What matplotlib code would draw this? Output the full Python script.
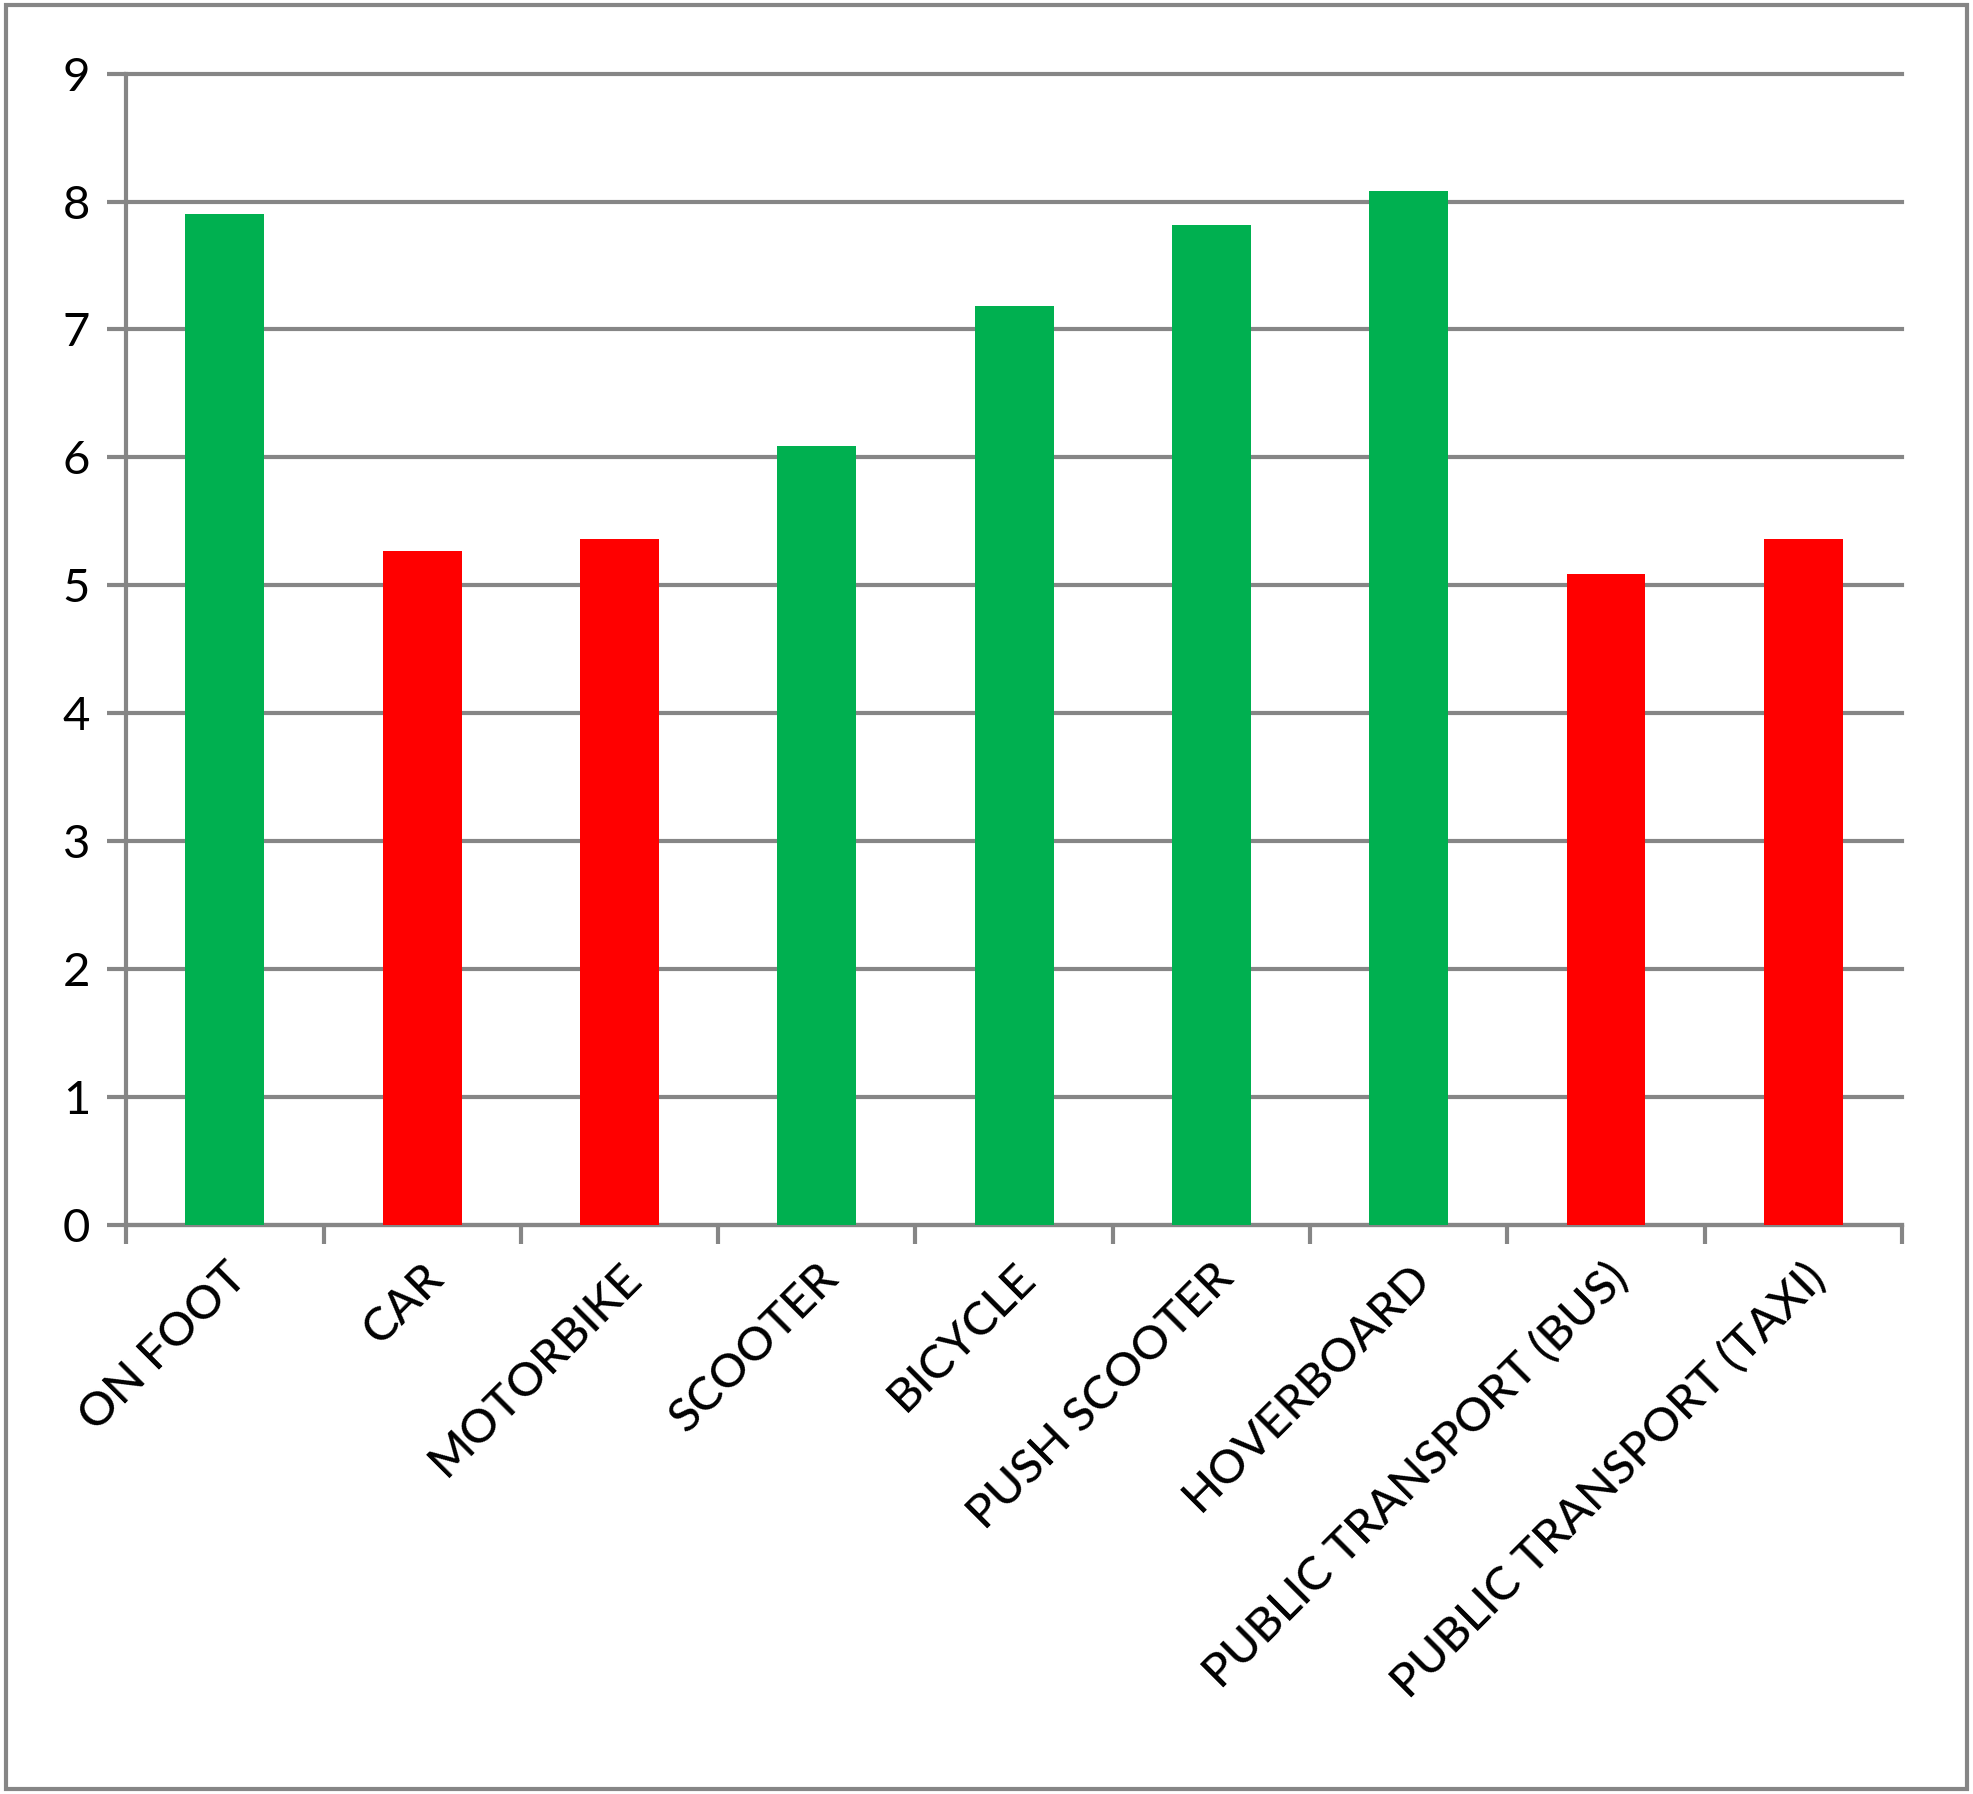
import matplotlib
matplotlib.use("Agg")
import matplotlib.pyplot as plt
from matplotlib.patches import Rectangle
import numpy as np

categories = ["ON FOOT", "CAR", "MOTORBIKE", "SCOOTER", "BICYCLE", "PUSH SCOOTER",
              "HOVERBOARD", "PUBLIC TRANSPORT (BUS)", "PUBLIC TRANSPORT (TAXI)"]
values = [7.9, 5.27, 5.36, 6.09, 7.18, 7.82, 8.08, 5.09, 5.36]
is_green = [True, False, False, True, True, True, True, False, False]

GREEN, RED, GRID = "#00b050", "#ff0000", "#868686"
plt.rcParams["font.family"] = ["Lato", "DejaVu Sans"]

fig = plt.figure(figsize=(19.73, 17.94), dpi=100)
ax = fig.add_axes([0.064, 0.317, 0.900, 0.642])
fig.patches.append(Rectangle((0.003, 0.003), 0.994, 0.994, transform=fig.transFigure,
                             fill=False, edgecolor=GRID, linewidth=3))

x = np.arange(len(categories))
ax.bar(x, values, width=0.4, color=[GREEN if g else RED for g in is_green], zorder=3)

ax.set_xlim(-0.5, len(categories) - 0.5)
ax.set_ylim(0, 9)
ax.set_yticks(range(10))
ax.yaxis.grid(True, color=GRID, linewidth=3, zorder=0)
for gl in ax.get_ygridlines():
    gl.set_clip_on(False)
ax.set_xticks(x)
ax.set_xticklabels(categories, rotation=45, ha="right", rotation_mode="anchor",
                   fontsize=34, fontweight="medium")
ax.tick_params(axis="x", length=0, pad=22)
ax.set_xticks(np.arange(-0.5, len(categories)), minor=True)
ax.tick_params(axis="x", which="minor", length=14, width=3, color=GRID)
ax.tick_params(axis="y", labelsize=34, length=14, width=3, color=GRID, pad=12)
for side in ["top", "right"]:
    ax.spines[side].set_visible(False)
for side in ["left", "bottom"]:
    ax.spines[side].set_color(GRID)
    ax.spines[side].set_linewidth(3)

fig.savefig("out.png", dpi=100)
